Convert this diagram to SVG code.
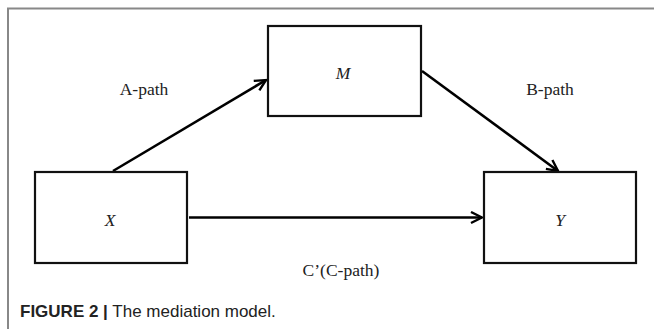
<svg xmlns="http://www.w3.org/2000/svg" width="654" height="329" viewBox="0 0 654 329">
<defs>
<style>
.box{fill:#fff;stroke:#111;stroke-width:2.2}
.lbl{font-family:"Liberation Serif","Times New Roman",serif;font-size:17.5px;fill:#222}
.it{font-style:italic}
.edge{stroke:#000;stroke-width:2.6;fill:none}
.cap{font-family:"Liberation Sans",Arial,sans-serif;font-size:17px;fill:#222}
</style>
<marker id="ah" viewBox="0 0 14 14" refX="12.5" refY="7" markerWidth="14" markerHeight="14" markerUnits="userSpaceOnUse" orient="auto">
<path d="M1.5,1.5 L12.5,7 L1.5,12.5" fill="none" stroke="#000" stroke-width="2.4"/>
</marker>
</defs>
<rect width="654" height="329" fill="#fff"/>
<path d="M8,329 V8.5 H654" fill="none" stroke="#888" stroke-width="2"/>
<g id="connectors">
<line class="edge" x1="113" y1="171" x2="266" y2="80" marker-end="url(#ah)"/>
<line class="edge" x1="422" y1="71" x2="558" y2="171" marker-end="url(#ah)"/>
<line class="edge" x1="189" y1="217.5" x2="482" y2="217.5" marker-end="url(#ah)"/>
</g>
<g id="node-M">
<rect class="box" x="268" y="26" width="153" height="90"/>
<text class="lbl it" x="343" y="79" text-anchor="middle">M</text>
</g>
<g id="node-X">
<rect class="box" x="35" y="172" width="152" height="91"/>
<text class="lbl it" x="110" y="226" text-anchor="middle">X</text>
</g>
<g id="node-Y">
<rect class="box" x="484" y="172" width="152" height="91"/>
<text class="lbl it" x="560" y="226" text-anchor="middle">Y</text>
</g>
<text class="lbl" x="144" y="95" text-anchor="middle">A-path</text>
<text class="lbl" x="550" y="95" text-anchor="middle">B-path</text>
<text class="lbl" x="341" y="276" text-anchor="middle">C’(C-path)</text>
<text class="cap" x="20" y="317"><tspan font-weight="bold">FIGURE 2 |</tspan> The mediation model.</text>
</svg>
